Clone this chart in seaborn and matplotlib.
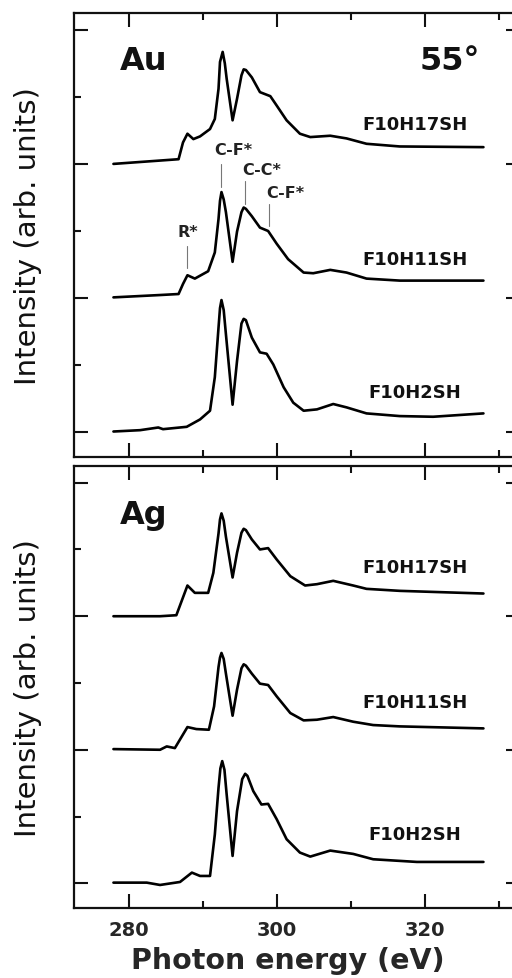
import numpy as np
import pandas as pd
import matplotlib
matplotlib.use("Agg")
import matplotlib.pyplot as plt
import seaborn as sns

# ---------------- data ----------------
# Au substrate
au_h17_e = [277.9, 284.2, 286.7, 287.3, 287.9, 288.7, 289.6, 290.95, 291.6, 292.1, 292.3,
            292.66, 292.95, 293.2, 294.0, 294.6, 295.2, 295.5, 295.8, 296.6,
            297.7, 299.1, 299.96, 301.3, 303.1, 304.5, 307.2, 309.4, 312.1, 316.6, 327.9]
au_h17_i = [0.0, 0.05, 0.07, 0.32, 0.45, 0.37, 0.41, 0.52, 0.67, 1.12, 1.52,
            1.67, 1.50, 1.27, 0.65, 0.97, 1.32, 1.41, 1.40, 1.29,
            1.07, 1.01, 0.87, 0.65, 0.45, 0.40, 0.42, 0.38, 0.30, 0.26, 0.25]

au_h11_e = [277.9, 284.2, 286.7, 287.3, 287.9, 288.9, 290.7, 291.6, 292.1, 292.3, 292.5,
            292.8, 293.1, 294.0, 294.6, 295.2, 295.5, 295.8, 296.6, 297.7,
            298.8, 299.96, 301.5, 303.6, 304.9, 307.2, 309.4, 312.1, 316.6, 327.9]
au_h11_i = [0.01, 0.045, 0.06, 0.21, 0.34, 0.29, 0.40, 0.68, 1.18, 1.45, 1.58,
            1.47, 1.28, 0.54, 0.99, 1.28, 1.35, 1.33, 1.22, 1.05,
            1.00, 0.81, 0.58, 0.38, 0.37, 0.42, 0.38, 0.29, 0.26, 0.26]

au_h2_e = [277.9, 281.5, 283.96, 284.6, 287.8, 289.6, 290.95, 291.6, 292.1, 292.3, 292.5,
           292.8, 293.1, 294.0, 294.6, 295.2, 295.5, 295.8, 296.6, 297.7,
           298.6, 299.5, 300.9, 302.2, 303.6, 305.4, 307.6, 309.4, 312.1, 316.6, 321.1, 327.9]
au_h2_i = [0.01, 0.03, 0.07, 0.045, 0.08, 0.19, 0.32, 0.82, 1.56, 1.85, 1.97,
           1.82, 1.46, 0.41, 1.06, 1.62, 1.69, 1.67, 1.41, 1.19,
           1.17, 1.01, 0.67, 0.44, 0.32, 0.34, 0.42, 0.37, 0.28, 0.24, 0.23, 0.28]

# Ag substrate
ag_h17_e = [277.9, 284.2, 286.4, 287.9, 288.9, 290.7, 291.4, 292.1, 292.3, 292.5,
            292.8, 293.1, 294.0, 294.6, 295.2, 295.5, 295.8, 296.6, 297.7,
            298.8, 299.96, 301.8, 303.8, 305.4, 307.6, 310.3, 312.1, 316.6, 327.9]
ag_h17_i = [0.0, 0.0, 0.015, 0.46, 0.35, 0.35, 0.65, 1.24, 1.45, 1.54,
            1.43, 1.19, 0.58, 0.95, 1.25, 1.31, 1.29, 1.15, 1.00,
            1.02, 0.85, 0.60, 0.46, 0.48, 0.53, 0.46, 0.41, 0.38, 0.34]

ag_h11_e = [277.9, 284.2, 285.1, 286.2, 287.9, 289.1, 290.8, 291.5, 292.1, 292.3, 292.5,
            292.8, 293.1, 294.0, 294.6, 295.2, 295.5, 295.8, 296.6, 297.7,
            298.8, 299.96, 301.8, 303.6, 305.4, 307.6, 310.3, 313.0, 316.6, 327.9]
ag_h11_i = [0.01, 0.0, 0.05, 0.025, 0.34, 0.31, 0.30, 0.65, 1.24, 1.38, 1.45,
            1.36, 1.14, 0.51, 0.90, 1.22, 1.28, 1.26, 1.14, 0.99,
            0.97, 0.80, 0.55, 0.44, 0.45, 0.49, 0.42, 0.37, 0.35, 0.32]

ag_h2_e = [277.9, 282.4, 284.2, 286.9, 288.5, 289.6, 290.95, 291.6, 292.1, 292.35, 292.6,
           292.9, 293.2, 294.0, 294.6, 295.3, 295.7, 296.0, 296.8, 297.9,
           298.8, 299.96, 301.3, 303.1, 304.5, 307.2, 310.3, 313.0, 318.9, 327.9]
ag_h2_i = [0.01, 0.01, -0.025, 0.02, 0.16, 0.11, 0.11, 0.73, 1.43, 1.72, 1.83,
           1.70, 1.33, 0.41, 1.08, 1.56, 1.64, 1.61, 1.38, 1.18,
           1.19, 0.96, 0.66, 0.46, 0.40, 0.49, 0.44, 0.36, 0.32, 0.32]

sample_names = ["F10H17SH", "F10H11SH", "F10H2SH"]
stack_offsets = [4, 2, 0]

# peak assignment markers (top panel, F10H11SH)
peak_labels = ["R*", "C-F*", "C-C*", "C-F*"]
peak_energies = [287.8, 292.4, 295.7, 298.9]

# ---------------- figure ----------------
sns.set_style("ticks")
plt.rcParams["font.family"] = ["DejaVu Sans"]

W, H = 512, 979
fig = plt.figure(figsize=(W / 100, H / 100), dpi=100)

x_left = 74 / W
x_width = (520 - 74) / W
ax_top = fig.add_axes([x_left, 1 - 458 / H, x_width, (458 - 14) / H])
ax_bot = fig.add_axes([x_left, 1 - 909 / H, x_width, (909 - 467) / H])

panels = [
    (ax_top, "Au", [(au_h17_e, au_h17_i), (au_h11_e, au_h11_i), (au_h2_e, au_h2_i)],
     [4.52, 2.51, 0.52]),
    (ax_bot, "Ag", [(ag_h17_e, ag_h17_i), (ag_h11_e, ag_h11_i), (ag_h2_e, ag_h2_i)],
     [4.66, 2.64, 0.66]),
]

for ax, substrate, spectra, label_y in panels:
    for (e, i), name, off, ly in zip(spectra, sample_names, stack_offsets, label_y):
        df = pd.DataFrame({"energy": e, "intensity": np.array(i) + off})
        sns.lineplot(data=df, x="energy", y="intensity", ax=ax, color="black",
                     linewidth=1.9, sort=False, estimator=None)
        ax.text(318.65, ly, name, ha="center", va="baseline", fontsize=13,
                fontweight="bold", color="#111111")
    ax.set_xlim(272.57, 332.84)
    ax.set_ylim(-0.37, 6.25)
    ax.set_xticks([280, 300, 320])
    ax.set_xticks([290, 310, 330], minor=True)
    ax.set_yticks([0, 2, 4, 6])
    ax.set_yticks([1, 3, 5], minor=True)
    ax.set_yticklabels([])
    ax.tick_params(which="both", direction="in", top=True, right=True,
                   width=1.5, color="#111111")
    ax.tick_params(which="major", length=10)
    ax.tick_params(which="minor", length=5)
    for s in ax.spines.values():
        s.set_linewidth(1.6)
        s.set_color("#111111")
    ax.set_ylabel("")
    ax.set_xlabel("")
    ax.text(278.7, 5.42 if substrate == "Au" else 5.40, substrate, ha="left",
            va="baseline", fontsize=23, fontweight="bold", color="#111111")

ax_top.set_xticklabels([])
ax_top.text(327.4, 5.42, "55°", ha="right", va="baseline", fontsize=23,
            fontweight="bold", color="#111111")

# peak annotations
ann_x = [288.0, 294.1, 297.9, 301.1]
ann_y = [2.93, 4.15, 3.85, 3.51]
line_lo = [2.45, 3.66, 3.40, 3.07]
line_hi = [2.78, 4.0, 3.75, 3.40]
for lab, pe, tx, ty, lo, hi in zip(peak_labels, peak_energies, ann_x, ann_y, line_lo, line_hi):
    ax_top.text(tx, ty, lab, ha="center", va="baseline", fontsize=11.5,
                fontweight="bold", color="#222222")
    ax_top.plot([pe, pe], [lo, hi], color="#777777", linewidth=0.8)

ax_bot.set_xticklabels(["280", "300", "320"], fontsize=14, fontweight="bold")
ax_bot.tick_params(axis="x", which="major", pad=9)
ax_bot.set_xlabel("Photon energy (eV)", fontsize=20.5, fontweight="bold")
ax_bot.xaxis.set_label_coords(0.479, -0.085)

for yc in [236, 688]:
    fig.text(28 / W, 1 - yc / H, "Intensity (arb. units)", rotation=90,
             ha="center", va="center", fontsize=21, color="#111111")

fig.savefig("out.png", dpi=100)
